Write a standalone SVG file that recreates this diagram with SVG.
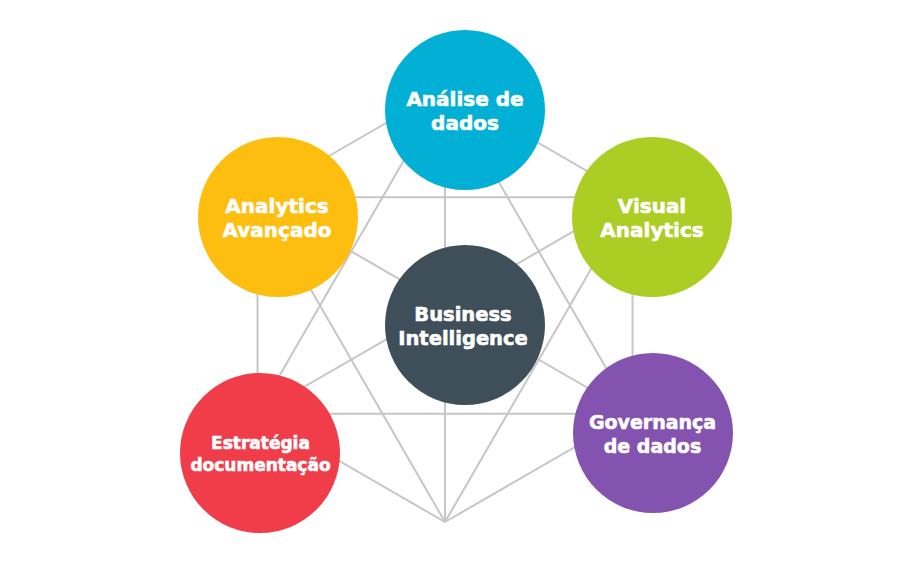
<svg xmlns="http://www.w3.org/2000/svg" width="915" height="581" viewBox="0 0 915 581">
<style>
.ln{stroke:#c6c6c6;stroke-width:2;fill:none}
.lb{fill:#ffffff;stroke:#ffffff;stroke-width:0.6;font-family:"DejaVu Sans","Liberation Sans",sans-serif;font-weight:bold;font-size:20px;text-anchor:middle}
</style>
<rect width="915" height="581" fill="#ffffff"/>
<g id="connectors" class="ln">
<line x1="445" y1="89" x2="257.5" y2="197.25"/>
<line x1="445" y1="89" x2="632.5" y2="197.25"/>
<line x1="257.5" y1="197.25" x2="257.5" y2="413.75"/>
<line x1="632.5" y1="197.25" x2="632.5" y2="413.75"/>
<line x1="257.5" y1="413.75" x2="445" y2="522"/>
<line x1="632.5" y1="413.75" x2="445" y2="522"/>
<line x1="257.5" y1="197.25" x2="632.5" y2="197.25"/>
<line x1="257.5" y1="413.75" x2="632.5" y2="413.75"/>
<line x1="445" y1="89" x2="445" y2="522"/>
<line x1="257.5" y1="197.25" x2="632.5" y2="413.75"/>
<line x1="632.5" y1="197.25" x2="257.5" y2="413.75"/>
<line x1="445" y1="89" x2="257.5" y2="413.75"/>
<line x1="445" y1="89" x2="632.5" y2="413.75"/>
<line x1="257.5" y1="197.25" x2="445" y2="522"/>
<line x1="632.5" y1="197.25" x2="445" y2="522"/>
</g>
<g id="analise">
<circle cx="465" cy="110" r="80" fill="#02b0d6"/>
<text class="lb" x="465" y="106">Análise de</text>
<text class="lb" x="465" y="130">dados</text>
</g>
<g id="avancado">
<circle cx="278" cy="217" r="80" fill="#fdbe0f"/>
<text class="lb" x="277" y="213">Analytics</text>
<text class="lb" x="277" y="237">Avançado</text>
</g>
<g id="visual">
<circle cx="652" cy="217" r="80" fill="#accd23"/>
<text class="lb" x="652" y="213">Visual</text>
<text class="lb" x="652" y="237">Analytics</text>
</g>
<g id="bi">
<circle cx="465" cy="325" r="80" fill="#3f4f59"/>
<text class="lb" x="463" y="321" style="font-size:19.5px">Business</text>
<text class="lb" x="463" y="345" style="font-size:19.5px">Intelligence</text>
</g>
<g id="estrategia">
<circle cx="260" cy="453" r="80" fill="#f13c49"/>
<text class="lb" x="260.5" y="449" style="font-size:17px">Estratégia</text>
<text class="lb" x="260.5" y="471" style="font-size:17px">documentação</text>
</g>
<g id="governanca">
<circle cx="653" cy="433" r="80" fill="#8452af"/>
<text class="lb" x="652.5" y="429" style="font-size:19px">Governança</text>
<text class="lb" x="652.5" y="453" style="font-size:19px">de dados</text>
</g>
</svg>
